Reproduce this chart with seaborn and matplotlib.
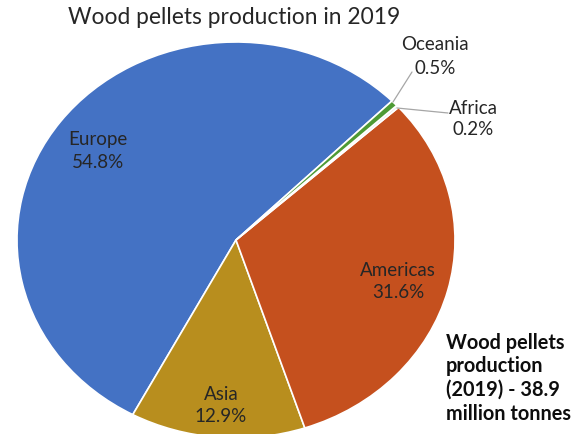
import matplotlib
matplotlib.use("Agg")
import matplotlib.pyplot as plt
import seaborn as sns

sns.set_theme(style="white")
plt.rcParams['font.family'] = ['Lato', 'DejaVu Sans']

regions = ["Europe", "Asia", "Americas", "Africa", "Oceania"]
shares = [54.8, 12.9, 31.6, 0.2, 0.5]
colors = ["#4472C4", "#B88E1E", "#C5501E", "#E8E8E8", "#4E9A34"]
title = "Wood pellets production in 2019"
note_lines = ["Wood pellets", "production", "(2019) - 38.9", "million tonnes"]

W, H = 579, 434
fig = plt.figure(figsize=(W / 100, H / 100), dpi=100)
ax = fig.add_axes([0, 0, 1, 1])

cx, cy, rx, ry = 236, 240, 219, 198
ax.pie(shares, colors=colors, startangle=44.6, counterclock=True,
       radius=1, center=(0, 0),
       wedgeprops=dict(edgecolor="white", linewidth=1.2))
ax.set_aspect("auto")
ax.set_xlim(-cx / rx, (W - cx) / rx)
ax.set_ylim(-(H - cy) / ry, cy / ry)
ax.axis("off")

def fx(x):
    return x / W

def fy(y):
    return 1 - y / H

txt = "#262626"
fig.text(fx(234), fy(18), title, ha="center", va="center", fontsize=16.4, color=txt)

labels = {
    "Europe": (98, 139, 162),
    "Americas": (398, 270, 292),
    "Asia": (221, 394, 417),
    "Oceania": (435, 45, 68),
    "Africa": (473, 108, 130),
}
for name, share in zip(regions, shares):
    x, y1, y2 = labels[name]
    fig.text(fx(x), fy(y1), name, ha="center", va="center", fontsize=13.5, color=txt)
    fig.text(fx(x), fy(y2), f"{share}%", ha="center", va="center", fontsize=13.5, color=txt)

# leader lines
fig.add_artist(plt.Line2D([fx(393), fx(412)], [fy(102), fy(72)], color="#A6A6A6", lw=0.9))
fig.add_artist(plt.Line2D([fx(397), fx(448)], [fy(108), fy(113)], color="#A6A6A6", lw=0.9))

for i, line in enumerate(note_lines):
    fig.text(fx(446), fy(343 + 23.5 * i), line, ha="left", va="center", fontsize=14.3,
             fontweight="bold", color="#0D0D0D")

fig.savefig("out.png", dpi=100)
